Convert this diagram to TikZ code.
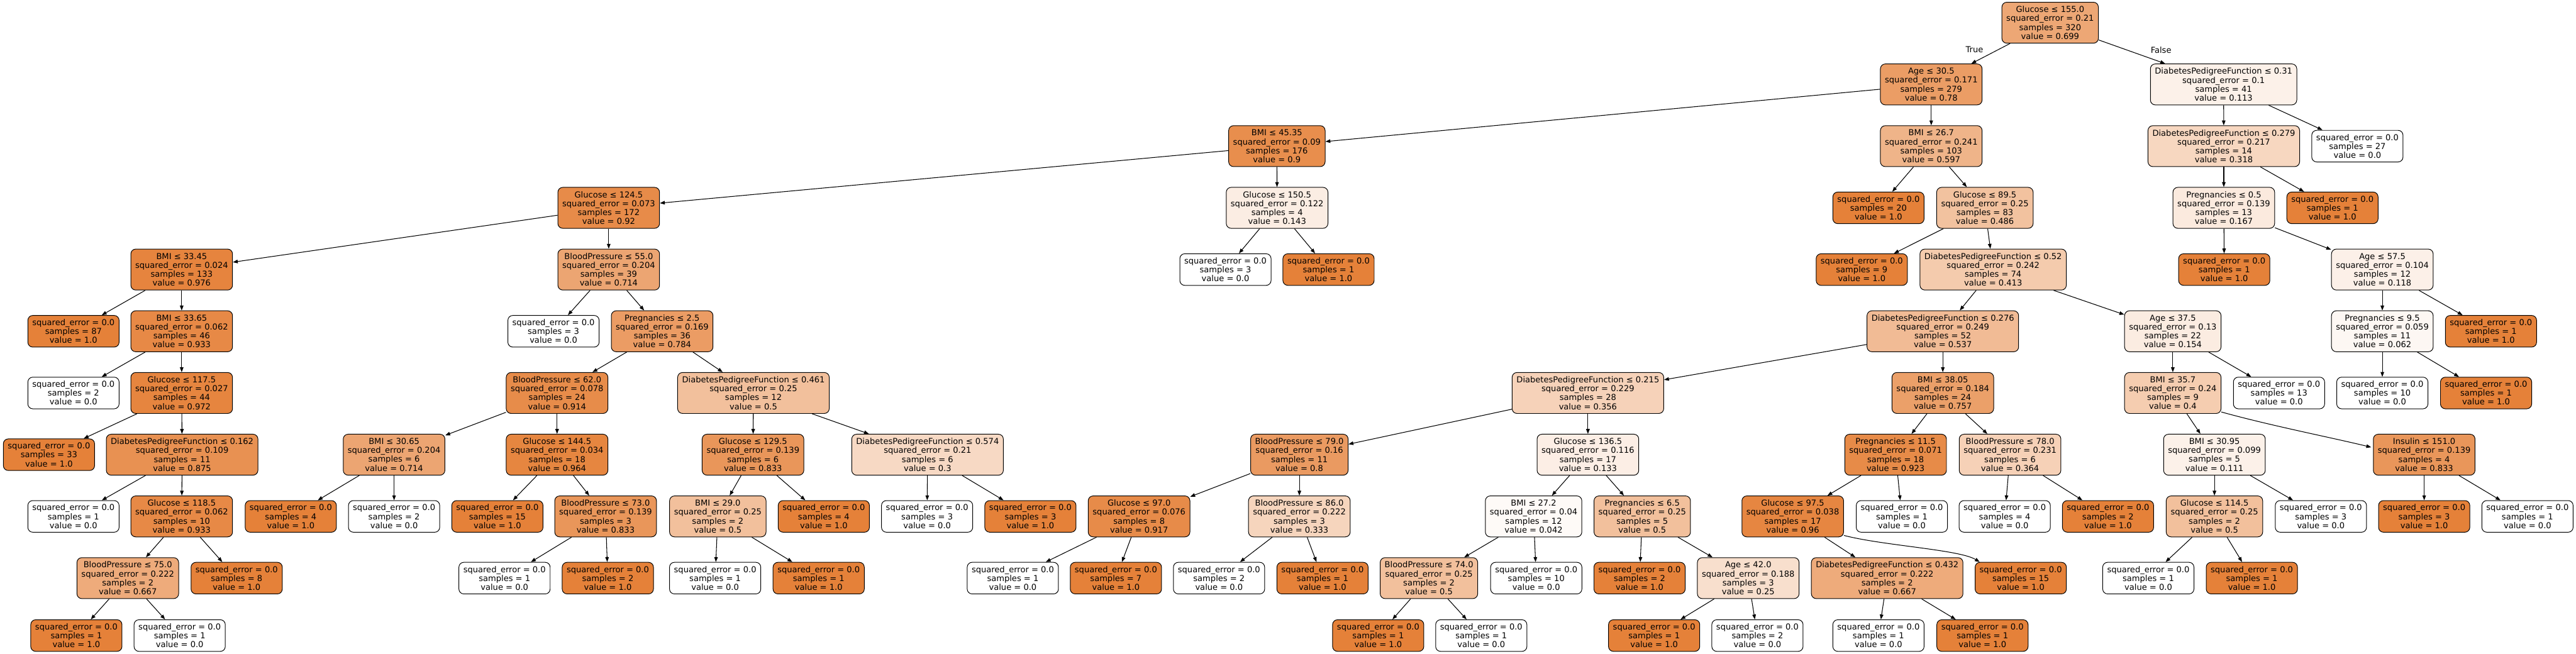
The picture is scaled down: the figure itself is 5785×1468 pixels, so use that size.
\documentclass[tikz,border=0pt]{standalone}
\usepackage{fontspec}
\setmainfont{DejaVu Sans}
\usetikzlibrary{arrows.meta,calc}
\definecolor{dtor}{RGB}{229,129,57}
\newcommand{\dtin}[7]{%
  \pgfmathsetmacro\dtpct{#7*100}%
  \pgfmathsetmacro\dty{51+138.6*#3}%
  \node[inbox, fill=dtor!\dtpct!white] (#1) at (#2,\dty) {#4\\squared\_error = #5\\samples = #6\\value = #7};%
}
\newcommand{\dtlf}[5]{%
  \pgfmathsetmacro\dtpct{#5*100}%
  \pgfmathsetmacro\dty{(#3<10)?(51+138.6*#3):1427.4}%
  \node[lfbox, fill=dtor!\dtpct!white] (#1) at (#2,\dty) {squared\_error = 0.0\\samples = #4\\value = #5};%
}
\begin{document}
\begin{tikzpicture}[x=0.5pt,y=-0.5pt,
  font=\fontsize{9.22}{10}\selectfont,
  box/.style={draw=black, line width=0.7pt, rounded corners=5.5pt, align=center, inner xsep=5pt, inner ysep=1pt},
  inbox/.style={box, minimum height=46pt},
  lfbox/.style={box, minimum height=35.5pt},
  lbl/.style={inner sep=0pt},
  dtedge/.style={line width=0.75pt, -{Triangle[length=5.5pt,width=4pt]}}]
\fill[white] (0,0) rectangle (5785,1468);
\useasboundingbox (0,0) rectangle (5785,1468);
% rank 0-3
\dtin{r}{4604}{0}{Glucose ≤ 155.0}{0.21}{320}{0.699}
\dtin{a}{4337}{1}{Age ≤ 30.5}{0.171}{279}{0.78}
\dtin{b}{4993.5}{1}{DiabetesPedigreeFunction ≤ 0.31}{0.1}{41}{0.113}
\dtin{aa}{2867.5}{2}{BMI ≤ 45.35}{0.09}{176}{0.9}
\dtin{ab}{4337}{2}{BMI ≤ 26.7}{0.241}{103}{0.597}
\dtin{ba}{4994}{2}{DiabetesPedigreeFunction ≤ 0.279}{0.217}{14}{0.318}
\dtlf{bb}{5294}{2}{27}{0.0}
\dtin{aaa}{1367}{3}{Glucose ≤ 124.5}{0.073}{172}{0.92}
\dtin{aab}{2868}{3}{Glucose ≤ 150.5}{0.122}{4}{0.143}
\dtlf{aba}{4218.5}{3}{20}{1.0}
\dtin{abb}{4457.5}{3}{Glucose ≤ 89.5}{0.25}{83}{0.486}
\dtin{baa}{4994}{3}{Pregnancies ≤ 0.5}{0.139}{13}{0.167}
\dtlf{bab}{5238}{3}{1}{1.0}
% rank 4
\dtin{c1}{408}{4}{BMI ≤ 33.45}{0.024}{133}{0.976}
\dtin{c2}{1367}{4}{BloodPressure ≤ 55.0}{0.204}{39}{0.714}
\dtlf{aab1}{2752}{4}{3}{0.0}
\dtlf{aab2}{2983.5}{4}{1}{1.0}
\dtlf{abb1}{4181}{4}{9}{1.0}
\dtin{abb2}{4476}{4}{DiabetesPedigreeFunction ≤ 0.52}{0.242}{74}{0.413}
\dtlf{baa1}{4995}{4}{1}{1.0}
\dtin{baa2}{5350}{4}{Age ≤ 57.5}{0.104}{12}{0.118}
% rank 5
\dtlf{c1a}{165}{5}{87}{1.0}
\dtin{c1b}{408}{5}{BMI ≤ 33.65}{0.062}{46}{0.933}
\dtlf{c2a}{1243}{5}{3}{0.0}
\dtin{c2b}{1487}{5}{Pregnancies ≤ 2.5}{0.169}{36}{0.784}
\dtin{p1}{4363}{5}{DiabetesPedigreeFunction ≤ 0.276}{0.249}{52}{0.537}
\dtin{p2}{4879.5}{5}{Age ≤ 37.5}{0.13}{22}{0.154}
\dtin{q1}{5350}{5}{Pregnancies ≤ 9.5}{0.059}{11}{0.062}
\dtlf{q2}{5594}{5}{1}{1.0}
% rank 6
\dtlf{c1ba}{165}{6}{2}{0.0}
\dtin{c1bb}{408}{6}{Glucose ≤ 117.5}{0.027}{44}{0.972}
\dtin{c2ba}{1251}{6}{BloodPressure ≤ 62.0}{0.078}{24}{0.914}
\dtin{c2bb}{1692}{6}{DiabetesPedigreeFunction ≤ 0.461}{0.25}{12}{0.5}
\dtin{d1}{3566}{6}{DiabetesPedigreeFunction ≤ 0.215}{0.229}{28}{0.356}
\dtin{d2}{4363}{6}{BMI ≤ 38.05}{0.184}{24}{0.757}
\dtin{e1}{4879.5}{6}{BMI ≤ 35.7}{0.24}{9}{0.4}
\dtlf{e2}{5118}{6}{13}{0.0}
\dtlf{f1}{5350}{6}{10}{0.0}
\dtlf{f2}{5583}{6}{1}{1.0}
% rank 7
\dtlf{k1}{110}{7}{33}{1.0}
\dtin{k2}{409}{7}{DiabetesPedigreeFunction ≤ 0.162}{0.109}{11}{0.875}
\dtin{g1}{885}{7}{BMI ≤ 30.65}{0.204}{6}{0.714}
\dtin{g2}{1251}{7}{Glucose ≤ 144.5}{0.034}{18}{0.964}
\dtin{h1}{1691}{7}{Glucose ≤ 129.5}{0.139}{6}{0.833}
\dtin{h2}{2083}{7}{DiabetesPedigreeFunction ≤ 0.574}{0.21}{6}{0.3}
\dtin{d11}{2918}{7}{BloodPressure ≤ 79.0}{0.16}{11}{0.8}
\dtin{d12}{3566}{7}{Glucose ≤ 136.5}{0.116}{17}{0.133}
\dtin{d21}{4257}{7}{Pregnancies ≤ 11.5}{0.071}{18}{0.923}
\dtin{d22}{4514}{7}{BloodPressure ≤ 78.0}{0.231}{6}{0.364}
\dtin{e11}{4973}{7}{BMI ≤ 30.95}{0.099}{5}{0.111}
\dtin{e12}{5444}{7}{Insulin ≤ 151.0}{0.139}{4}{0.833}
% rank 8
\dtlf{k2a}{165}{8}{1}{0.0}
\dtin{k2b}{408}{8}{Glucose ≤ 118.5}{0.062}{10}{0.933}
\dtlf{g1a}{653}{8}{4}{1.0}
\dtlf{g1b}{885}{8}{2}{0.0}
\dtlf{g2a}{1117}{8}{15}{1.0}
\dtin{g2b}{1360}{8}{BloodPressure ≤ 73.0}{0.139}{3}{0.833}
\dtin{h1a}{1612}{8}{BMI ≤ 29.0}{0.25}{2}{0.5}
\dtlf{h1b}{1850}{8}{4}{1.0}
\dtlf{h2a}{2082}{8}{3}{0.0}
\dtlf{h2b}{2314}{8}{3}{1.0}
\dtin{d111}{2558}{8}{Glucose ≤ 97.0}{0.076}{8}{0.917}
\dtin{d112}{2918}{8}{BloodPressure ≤ 86.0}{0.222}{3}{0.333}
\dtin{d121}{3444}{8}{BMI ≤ 27.2}{0.04}{12}{0.042}
\dtin{d122}{3688}{8}{Pregnancies ≤ 6.5}{0.25}{5}{0.5}
\dtin{d211}{4026}{8}{Glucose ≤ 97.5}{0.038}{17}{0.96}
\dtlf{d212}{4271}{8}{1}{0.0}
\dtlf{d221}{4502}{8}{4}{0.0}
\dtlf{d222}{4734}{8}{2}{1.0}
\dtin{e111}{4973}{8}{Glucose ≤ 114.5}{0.25}{2}{0.5}
\dtlf{e112}{5212}{8}{3}{0.0}
\dtlf{e121}{5444}{8}{3}{1.0}
\dtlf{e122}{5676}{8}{1}{0.0}
% rank 9
\dtin{k2ba}{287}{9}{BloodPressure ≤ 75.0}{0.222}{2}{0.667}
\dtlf{k2bb}{531.5}{9}{8}{1.0}
\dtlf{g2ba}{1133}{9}{1}{0.0}
\dtlf{g2bb}{1365}{9}{2}{1.0}
\dtlf{h1aa}{1606}{9}{1}{0.0}
\dtlf{h1ab}{1838.5}{9}{1}{1.0}
\dtlf{d111a}{2274.5}{9}{1}{0.0}
\dtlf{d111b}{2506}{9}{7}{1.0}
\dtlf{d112a}{2737.6}{9}{2}{0.0}
\dtlf{d112b}{2970}{9}{1}{1.0}
\dtin{d121a}{3209}{9}{BloodPressure ≤ 74.0}{0.25}{2}{0.5}
\dtlf{d121b}{3450}{9}{10}{0.0}
\dtlf{d122a}{3682}{9}{2}{1.0}
\dtin{d122b}{3926}{9}{Age ≤ 42.0}{0.188}{3}{0.25}
\dtin{d211a}{4238}{9}{DiabetesPedigreeFunction ≤ 0.432}{0.222}{2}{0.667}
\dtlf{d211b}{4538}{9}{15}{1.0}
\dtlf{e111a}{4824.5}{9}{1}{0.0}
\dtlf{e111b}{5057}{9}{1}{1.0}
% rank 10
\dtlf{k2baa}{171.5}{10}{1}{1.0}
\dtlf{k2bab}{403.5}{10}{1}{0.0}
\dtlf{d121aa}{3095}{10}{1}{1.0}
\dtlf{d121ab}{3326.5}{10}{1}{0.0}
\dtlf{d122ba}{3714.7}{10}{1}{1.0}
\dtlf{d122bb}{3946.7}{10}{2}{0.0}
\dtlf{d211aa}{4218.5}{10}{1}{0.0}
\dtlf{d211ab}{4452}{10}{1}{1.0}
% edges
\foreach \p/\c in {r/a, r/b, a/aa, a/ab, aa/aaa, aa/aab, ab/aba, ab/abb, b/ba, b/bb, ba/baa, ba/bab,
  aaa/c1, aaa/c2, aab/aab1, aab/aab2, abb/abb1, abb/abb2, baa/baa1, baa/baa2,
  c1/c1a, c1/c1b, c2/c2a, c2/c2b, abb2/p1, abb2/p2, baa2/q1, baa2/q2,
  c1b/c1ba, c1b/c1bb, c2b/c2ba, c2b/c2bb, p1/d1, p1/d2, p2/e1, p2/e2, q1/f1, q1/f2,
  c1bb/k1, c1bb/k2, c2ba/g1, c2ba/g2, c2bb/h1, c2bb/h2, d1/d11, d1/d12, d2/d21, d2/d22, e1/e11,
  k2/k2a, k2/k2b, g1/g1a, g1/g1b, g2/g2a, g2/g2b, h1/h1a, h1/h1b, h2/h2a, h2/h2b,
  d11/d111, d11/d112, d12/d121, d12/d122, d21/d211, d21/d212, d22/d221, d22/d222,
  e11/e111, e11/e112, e12/e121, e12/e122,
  k2b/k2ba, k2b/k2bb, g2b/g2ba, g2b/g2bb, h1a/h1aa, h1a/h1ab, d111/d111a, d111/d111b,
  d112/d112a, d112/d112b, d121/d121a, d121/d121b, d122/d122a, d122/d122b, d211/d211a,
  e111/e111a, e111/e111b,
  k2ba/k2baa, k2ba/k2bab, d121a/d121aa, d121a/d121ab, d122b/d122ba, d122b/d122bb,
  d211a/d211aa, d211a/d211ab}
  \draw[dtedge] (\p) -- (\c);
\draw[dtedge] ($(e1.south east)+(0,-4)$) .. controls +(112,31) and +(-95,-23) .. ($(e12.north west)+(-4,30)$);
\draw[dtedge] ($(d211.south east)+(0,-4)$) .. controls +(88,23) and +(-46,-28) .. ($(d211b.north west)+(11,0)$);
\node[lbl] (tl) at (4434,111) {True};
\node[lbl] (fl) at (4853,113) {False};
\end{tikzpicture}
\end{document}
